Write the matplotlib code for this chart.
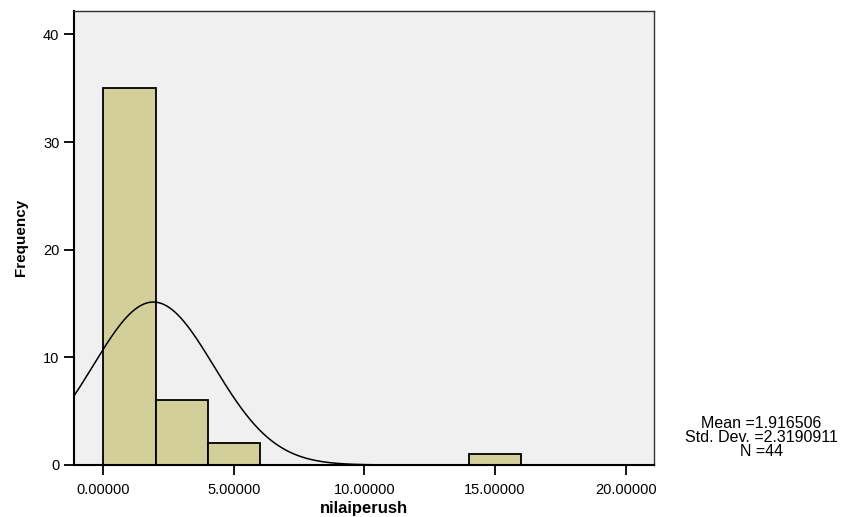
import numpy as np
import matplotlib.pyplot as plt

# histogram bins
bin_edges = [0, 2, 4, 6, 8, 10, 12, 14, 16, 18, 20]
counts = [35, 6, 2, 0, 0, 0, 0, 1, 0, 0]
mean = 1.916506
sd = 2.3190911
n = 44
x_ticks = [0, 5, 10, 15, 20]
x_labels = ['0.00000', '5.00000', '10.00000', '15.00000', '20.00000']
y_ticks = [0, 10, 20, 30, 40]

plt.rcParams['font.family'] = ['Liberation Sans', 'DejaVu Sans']

fig = plt.figure(figsize=(8.51, 5.17), dpi=100)
ax = fig.add_axes([0.087, 0.1006, 0.6819, 0.8787])
ax.set_facecolor('#f0f0f0')

# bars
lefts = np.array(bin_edges[:-1])
widths = np.diff(bin_edges)
ax.bar(lefts, counts, width=widths, align='edge', color='#d3cf9a',
       edgecolor='black', linewidth=1.3)

# normal curve scaled to counts
xlim = (-1.12, 21.1)
xs = np.linspace(xlim[0], xlim[1], 400)
bw = bin_edges[1] - bin_edges[0]
ys = n * bw / (sd * np.sqrt(2 * np.pi)) * np.exp(-0.5 * ((xs - mean) / sd) ** 2)
ax.plot(xs, ys, color='black', linewidth=1.1)

ax.set_xlim(*xlim)
ax.set_ylim(0, 42.2)
ax.set_xticks(x_ticks)
ax.set_xticklabels(x_labels)
ax.set_yticks(y_ticks)
ax.tick_params(axis='both', direction='out', length=7, width=1.3,
               labelsize=10.5, colors='black')
ax.tick_params(axis='x', pad=6)

for s in ['left', 'bottom']:
    ax.spines[s].set_linewidth(1.5)
    ax.spines[s].set_color('black')
for s in ['top', 'right']:
    ax.spines[s].set_linewidth(1.0)
    ax.spines[s].set_color('#333333')

ax.set_xlabel('nilaiperush', fontsize=12, fontweight='bold', labelpad=3)
ax.set_ylabel('Frequency', fontsize=11, fontweight='bold', labelpad=11)

fig.text(0.895, 0.153, 'Mean =%.6f\nStd. Dev. =%.7f\nN =%d' % (mean, sd, n),
         ha='center', va='center', fontsize=11.5, linespacing=0.92)

fig.savefig('out.png', dpi=100)
